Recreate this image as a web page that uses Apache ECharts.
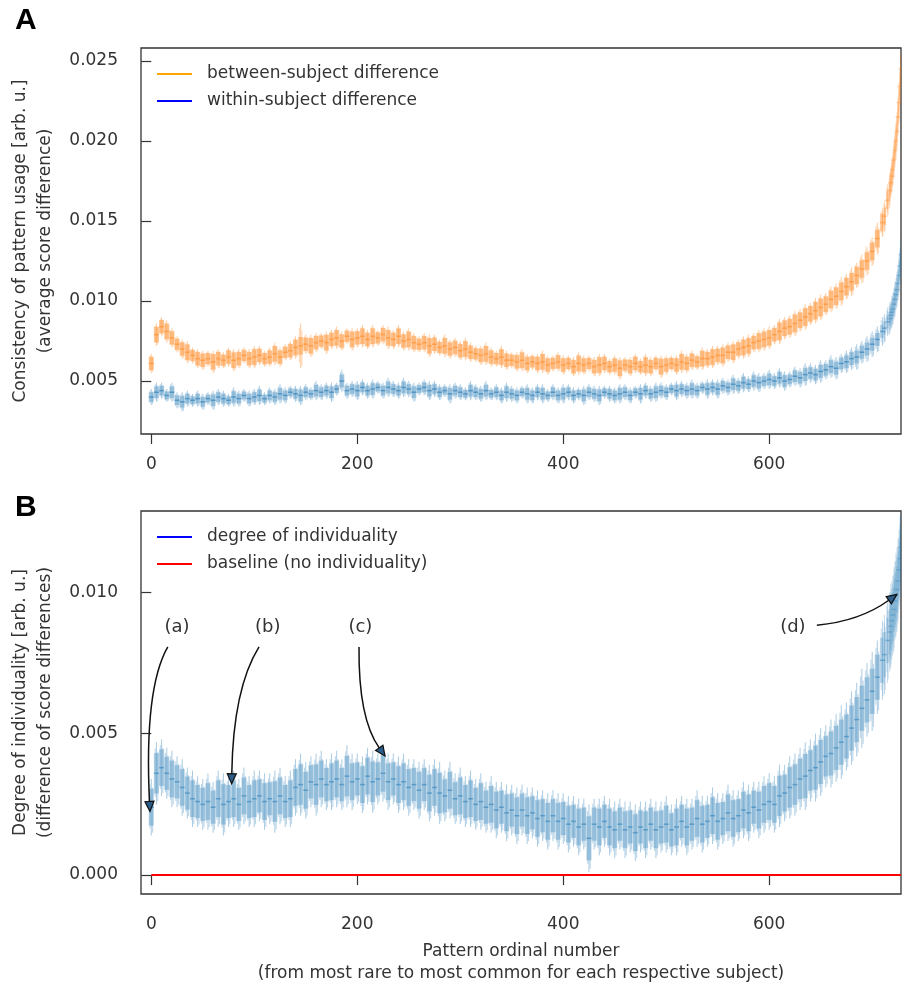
<!DOCTYPE html>
<html><head><meta charset="utf-8">
<script src="https://cdn.jsdelivr.net/npm/echarts@6/dist/echarts.min.js"></script>
<style>html,body{margin:0;padding:0;background:#fff}#c{width:902px;height:986px}</style>
</head><body><div id="c"></div>
<script>
// Pattern ordinal numbers (sampled)
const patternIdx = [
0,5,10,15,20,25,30,35,40,45,
50,55,60,65,70,75,80,85,90,95,
100,105,110,115,120,125,130,135,140,145,
150,155,160,165,170,175,180,185,190,195,
200,205,210,215,220,225,230,235,240,245,
250,255,260,265,270,275,280,285,290,295,
300,305,310,315,320,325,330,335,340,345,
350,355,360,365,370,375,380,385,390,395,
400,405,410,415,420,425,430,435,440,445,
450,455,460,465,470,475,480,485,490,495,
500,505,510,515,520,525,530,535,540,545,
550,555,560,565,570,575,580,585,590,595,
600,605,610,615,620,625,630,635,640,645,
650,655,660,665,670,675,680,685,690,695,
700,705,710,712,715,717,718,719,720,721,722,723,724,725,726,727,728];

// Panel A: between-subject difference (x 1e-3)
const betweenMean = [
6.1,7.9,8.4,8.1,7.7,7.3,7.0,6.8,6.6,6.4,
6.3,6.4,6.2,6.4,6.3,6.5,6.3,6.4,6.6,6.4,
6.5,6.6,6.4,6.5,6.7,6.5,6.8,6.9,7.1,7.2,
7.3,7.2,7.4,7.5,7.4,7.6,7.7,7.5,7.8,7.6,
7.7,7.8,7.6,7.8,7.7,7.9,7.7,7.6,7.8,7.5,
7.6,7.4,7.3,7.4,7.2,7.3,7.1,7.2,7.0,7.1,
6.9,7.0,6.8,6.7,6.6,6.7,6.5,6.4,6.5,6.3,
6.3,6.2,6.3,6.1,6.2,6.1,6.2,6.0,6.1,6.2,
6.0,6.1,5.9,6.1,6.0,6.1,5.9,6.0,6.1,5.9,
6.0,5.8,6.0,5.9,6.1,5.9,6.0,5.9,6.1,5.9,
6.0,6.1,6.0,6.2,6.1,6.3,6.2,6.4,6.4,6.5,
6.6,6.6,6.8,6.8,7.0,7.1,7.2,7.4,7.5,7.6,
7.7,7.9,8.1,8.3,8.4,8.6,8.8,9.0,9.2,9.4,
9.6,9.8,10.1,10.3,10.6,10.9,11.2,11.6,12.0,12.5,
13.1,13.9,14.9,15.3,16.3,16.9,17.4,17.8,18.2,18.8,19.4,20.0,20.6,21.5,22.4,23.4,24.5];
// error half-widths (x 1e-4)
const betweenErr = [
6,7,6,7,6,5,6,7,5,6,
6,5,7,6,5,6,7,6,5,6,
7,6,5,6,7,6,5,6,7,14,
6,7,6,5,7,6,7,6,5,7,
6,7,6,7,5,6,7,6,7,6,
7,6,5,6,7,6,5,7,6,6,
6,7,6,5,6,7,6,5,7,6,
5,6,7,6,5,6,7,6,5,6,
6,5,6,7,6,5,6,7,6,5,
6,7,5,6,6,5,7,6,5,7,
6,5,6,7,6,6,5,7,6,7,
6,7,6,7,6,7,7,6,7,7,
7,6,8,7,7,8,7,8,7,8,
8,7,8,8,9,8,9,8,9,9,
9,10,9,10,10,11,10,11,11,12,11,12,12,12,13,12,12];

// Panel A: within-subject difference (x 1e-3)
const withinMean = [
4.0,4.3,4.4,4.1,4.3,3.8,3.7,3.9,3.8,3.9,
3.7,3.9,3.8,4.0,3.9,3.8,4.0,3.9,4.1,3.9,
4.0,4.1,3.9,4.1,4.0,4.2,4.1,4.3,4.2,4.1,
4.3,4.2,4.4,4.3,4.4,4.3,4.5,5.0,4.4,4.5,
4.4,4.6,4.4,4.5,4.6,4.4,4.6,4.5,4.4,4.6,
4.5,4.3,4.5,4.6,4.4,4.5,4.3,4.4,4.2,4.4,
4.3,4.2,4.4,4.3,4.2,4.4,4.2,4.3,4.1,4.3,
4.2,4.1,4.3,4.2,4.1,4.3,4.2,4.1,4.3,4.1,
4.2,4.3,4.1,4.2,4.1,4.3,4.2,4.1,4.3,4.2,
4.1,4.2,4.3,4.1,4.3,4.2,4.4,4.2,4.3,4.4,
4.3,4.5,4.4,4.5,4.4,4.5,4.4,4.6,4.5,4.6,
4.5,4.7,4.6,4.8,4.7,4.9,4.8,5.0,4.9,5.0,
5.1,5.0,5.2,5.0,5.1,5.3,5.2,5.4,5.5,5.4,
5.6,5.7,5.9,5.8,6.1,6.2,6.4,6.5,6.8,7.0,
7.3,7.6,8.1,8.3,8.7,8.9,9.1,9.3,9.5,9.8,10.1,10.4,10.7,11.1,11.6,12.2,12.9];
const withinErr = [
5,6,5,4,6,5,6,5,4,5,
5,4,6,5,5,4,6,5,4,5,
5,6,4,5,5,6,5,4,5,6,
5,4,6,5,5,6,4,7,5,5,
6,5,5,6,4,5,6,5,5,6,
5,6,4,5,6,5,5,4,6,5,
5,4,6,5,5,6,4,5,5,6,
5,5,4,6,5,5,6,4,5,5,
6,5,5,4,6,5,5,6,4,5,
5,6,5,5,4,6,5,5,6,5,
5,4,6,5,5,6,5,4,6,5,
6,5,5,6,5,6,5,6,6,5,
6,5,6,6,5,6,6,7,6,6,
7,6,7,7,6,7,7,8,7,8,
8,8,9,9,9,10,9,10,10,10,11,10,11,11,12,11,12];

// Panel B: degree of individuality (x 1e-3)
const indivMean = [
2.4,3.6,3.8,3.6,3.4,3.3,3.1,2.9,2.7,2.6,
2.5,2.6,2.4,2.7,2.5,2.6,2.7,2.5,2.8,2.6,
2.7,2.8,2.6,2.7,2.6,2.8,2.6,2.7,3.1,3.2,
3.0,3.3,3.2,3.4,3.2,3.3,3.4,3.2,3.5,3.3,
3.4,3.2,3.5,3.3,3.4,3.6,3.3,3.4,3.2,3.3,
3.1,3.2,3.0,3.2,2.9,3.1,2.9,2.8,3.0,2.7,
2.8,2.6,2.7,2.5,2.6,2.4,2.5,2.3,2.4,2.2,
2.3,2.1,2.3,2.1,2.2,2.0,2.1,1.9,2.1,1.9,
2.0,1.8,1.9,1.7,1.8,1.3,1.8,1.7,1.9,1.7,
1.6,1.8,1.6,1.7,1.5,1.7,1.6,1.8,1.6,1.7,
1.8,1.6,1.7,1.9,1.7,1.8,2.0,1.8,1.9,2.1,
1.9,2.0,2.2,2.0,2.1,2.3,2.2,2.4,2.3,2.5,
2.6,2.5,2.8,2.9,3.1,3.2,3.4,3.5,3.7,3.8,
4.0,4.2,4.3,4.5,4.7,4.9,5.2,5.5,5.9,6.2,
6.5,7.0,7.6,7.8,8.3,8.6,8.8,9.0,9.2,9.4,9.7,9.9,10.1,10.4,10.8,11.2,11.6];
const indivErr = [
10,11,10,9,10,9,10,9,10,9,
9,10,9,10,11,9,10,9,10,9,
10,9,10,9,11,10,9,10,10,11,
10,9,11,10,9,10,10,9,11,10,
9,10,10,11,9,10,10,9,10,10,
10,9,10,9,10,10,11,9,10,9,
10,9,10,9,10,9,10,10,9,10,
9,10,9,10,9,10,9,10,9,10,
9,10,9,10,9,12,9,10,9,10,
10,9,10,9,10,9,10,9,10,9,
10,9,10,9,10,9,10,10,9,10,
10,9,10,10,9,10,10,9,10,10,
10,10,11,10,11,11,11,12,11,12,
12,11,12,12,13,12,13,13,14,13,
14,13,14,14,15,14,15,14,14,15,14,15,15,15,14,15,15];

const baselineValue = 0;
const xTicks = [0, 200, 400, 600];
const yTicksA = [0.005, 0.010, 0.015, 0.020, 0.025];
const yTicksB = [0.000, 0.005, 0.010];

const SCALE = 1e-3, ERR_SCALE = 1e-4;
const FONT = 'DejaVu Sans';
const TXT = '#333';

function toData(mean, err) {
  return patternIdx.map((x, i) => [x, mean[i] * SCALE, err[i] * ERR_SCALE]);
}

function errSeries(name, gi, data, rgb, a) {
  const col = alpha => 'rgba(' + rgb + ',' + alpha.toFixed(3) + ')';
  return {
    type: 'custom', name: name, xAxisIndex: gi, yAxisIndex: gi, data: data,
    silent: true, clip: true, z: 2,
    renderItem: function (params, api) {
      const i = params.dataIndex;
      const x = api.value(0), m = api.value(1), e = api.value(2);
      const gL = i > 0 ? patternIdx[i] - patternIdx[i - 1] : 5;
      const gR = i < patternIdx.length - 1 ? patternIdx[i + 1] - patternIdx[i] : gL;
      const dens = Math.min(1, 0.45 + (gL + gR) / 18);
      const inner = Math.min(e * a.inner, a.cap);
      const mid = api.coord([x, m]);
      const xl = api.coord([x - gL / 2, m])[0], xr = api.coord([x + gR / 2, m])[0];
      const top = api.coord([x, m + e])[1], bot = api.coord([x, m - e])[1];
      const inTop = api.coord([x, m + inner])[1], inBot = api.coord([x, m - inner])[1];
      const t2 = api.coord([x, m + e * 0.8])[1], b2 = api.coord([x, m - e * 0.75])[1];
      const t3 = api.coord([x, m + e * 0.7])[1], b3 = api.coord([x, m - e * 0.9])[1];
      const qx1 = (xl + mid[0]) / 2, qx2 = (xr + mid[0]) / 2;
      return {
        type: 'group', children: [
          { type: 'rect', shape: { x: xl, y: inTop, width: xr - xl, height: inBot - inTop },
            style: { fill: col(a.band * dens) } },
          { type: 'line', shape: { x1: mid[0], y1: top, x2: mid[0], y2: bot },
            style: { stroke: col(a.line * dens), lineWidth: 1 } },
          { type: 'line', shape: { x1: qx1, y1: t2, x2: qx1, y2: b2 },
            style: { stroke: col(a.line * 0.8 * dens), lineWidth: 1 } },
          { type: 'line', shape: { x1: qx2, y1: t3, x2: qx2, y2: b3 },
            style: { stroke: col(a.line * 0.8 * dens), lineWidth: 1 } },
          { type: 'line', shape: { x1: mid[0] - 2.5, y1: mid[1], x2: mid[0] + 2.5, y2: mid[1] },
            style: { stroke: col(a.mark * dens), lineWidth: 1.5 } }
        ]
      };
    }
  };
}

function xAxisCfg(gi, name) {
  return {
    type: 'value', gridIndex: gi, min: -10, max: 728,
    axisLine: { show: false }, splitLine: { show: false },
    axisTick: { show: true, inside: false, length: 10, lineStyle: { color: TXT, width: 1.2 }, customValues: xTicks },
    axisLabel: { show: true, margin: 22, fontFamily: FONT, fontSize: 17, color: TXT,
      customValues: xTicks, formatter: v => String(Math.round(v)) },
    name: name || '', nameLocation: 'middle', nameGap: 47,
    nameTextStyle: { fontFamily: FONT, fontSize: 17, color: TXT, lineHeight: 22 }
  };
}
function yAxisCfg(gi, min, max, ticks, name) {
  return {
    type: 'value', gridIndex: gi, min: min, max: max, position: 'left',
    axisLine: { show: false }, splitLine: { show: false },
    axisTick: { show: true, inside: false, length: 10, lineStyle: { color: TXT, width: 1.2 }, customValues: ticks },
    axisLabel: { show: true, margin: 23, fontFamily: FONT, fontSize: 17, color: TXT,
      customValues: ticks, formatter: v => v.toFixed(3) },
    name: name, nameLocation: 'middle', nameGap: 75, nameRotate: 90,
    nameTextStyle: { fontFamily: FONT, fontSize: 17, color: TXT, lineHeight: 25 }
  };
}

const chart = echarts.init(document.getElementById('c'), null, { renderer: 'canvas' });
const blueRGB = '31,119,180', orangeRGB = '255,127,14';

chart.setOption({
  animation: false,
  backgroundColor: '#fff',
  grid: [
    { left: 141, top: 48, width: 760, height: 386, show: true, borderColor: '#333', borderWidth: 1.3, backgroundColor: 'transparent' },
    { left: 141, top: 511, width: 760, height: 386, show: true, borderColor: '#333', borderWidth: 1.3, backgroundColor: 'transparent' }
  ],
  xAxis: [xAxisCfg(0), xAxisCfg(1, 'Pattern ordinal number\n(from most rare to most common for each respective subject)')],
  yAxis: [
    yAxisCfg(0, 0.00169, 0.02581, yTicksA, 'Consistency of pattern usage [arb. u.]\n(average score difference)'),
    yAxisCfg(1, -0.00067, 0.01288, yTicksB, 'Degree of individuality [arb. u.]\n(difference of score differences)')
  ],
  legend: [
    { data: ['between-subject difference', 'within-subject difference'], orient: 'vertical', left: 157, top: 64,
      padding: 0, itemGap: 7, itemWidth: 35, itemHeight: 2, icon: 'rect', selectedMode: false,
      textStyle: { fontFamily: FONT, fontSize: 17, color: TXT, lineHeight: 20, padding: [0, 0, 0, 10] } },
    { data: ['degree of individuality', 'baseline (no individuality)'], orient: 'vertical', left: 157, top: 527,
      padding: 0, itemGap: 7, itemWidth: 35, itemHeight: 2, icon: 'rect', selectedMode: false,
      textStyle: { fontFamily: FONT, fontSize: 17, color: TXT, lineHeight: 20, padding: [0, 0, 0, 10] } }
  ],
  series: [
    errSeries('_between', 0, toData(betweenMean, betweenErr), orangeRGB, { band: 0.38, line: 0.4, mark: 0.45, inner: 0.7, cap: 0.00055 }),
    errSeries('_within', 0, toData(withinMean, withinErr), blueRGB, { band: 0.3, line: 0.38, mark: 0.55, inner: 0.6, cap: 0.0004 }),
    errSeries('_indiv', 1, toData(indivMean, indivErr), blueRGB, { band: 0.3, line: 0.38, mark: 0.5, inner: 0.65, cap: 0.0008 }),
    { type: 'line', name: 'between-subject difference', xAxisIndex: 0, yAxisIndex: 0, data: [], color: '#ffa500' },
    { type: 'line', name: 'within-subject difference', xAxisIndex: 0, yAxisIndex: 0, data: [], color: '#0000ff' },
    { type: 'line', name: 'degree of individuality', xAxisIndex: 1, yAxisIndex: 1, data: [], color: '#0000ff' },
    { type: 'line', name: 'baseline (no individuality)', xAxisIndex: 1, yAxisIndex: 1, color: '#ff0000',
      symbol: 'none', lineStyle: { width: 2, color: '#ff0000' }, z: 3,
      data: [[patternIdx[0], baselineValue], [patternIdx[patternIdx.length - 1], baselineValue]] }
  ]
});

// Annotations in panel B (data coordinates)
const annotations = [
  { label: '(a)', text: [25, 0.00877], start: [16, 0.00807], ctrl: [-7, 0.0066], tip: [-1.3, 0.00225] },
  { label: '(b)', text: [113, 0.00877], start: [104.6, 0.00807], ctrl: [79.5, 0.0066], tip: [78, 0.00323] },
  { label: '(c)', text: [203, 0.00877], start: [201.7, 0.00807], ctrl: [201, 0.00554], tip: [227, 0.00421] },
  { label: '(d)', text: [623, 0.00877], start: [646.3, 0.00884], ctrl: [688, 0.00898], tip: [724, 0.00993] }
];

function px(p) { return chart.convertToPixel({ gridIndex: 1 }, p); }
const graphics = [
  { type: 'text', left: 15, top: 6, style: { text: 'A', font: 'bold 30px "Liberation Sans", Arial, sans-serif', fill: '#000' } },
  { type: 'text', left: 15, top: 493, style: { text: 'B', font: 'bold 30px "Liberation Sans", Arial, sans-serif', fill: '#000' } }
];
annotations.forEach(a => {
  const t = px(a.text), s = px(a.start), c = px(a.ctrl), e = px(a.tip);
  graphics.push({ type: 'text', x: t[0], y: t[1], z: 10,
    style: { text: a.label, fontFamily: FONT, fontSize: 18, fill: TXT, align: 'center', verticalAlign: 'middle' } });
  const dx = e[0] - c[0], dy = e[1] - c[1], L = Math.hypot(dx, dy);
  const ux = dx / L, uy = dy / L, hl = 10, hw = 4.5;
  const bx = e[0] - ux * hl, by = e[1] - uy * hl;
  graphics.push({ type: 'bezierCurve', z: 10,
    shape: { x1: s[0], y1: s[1], x2: bx, y2: by, cpx1: c[0], cpy1: c[1] },
    style: { stroke: '#111', lineWidth: 1.5, fill: null } });
  graphics.push({ type: 'polygon', z: 11,
    shape: { points: [[e[0], e[1]], [bx - uy * hw, by + ux * hw], [bx + uy * hw, by - ux * hw]] },
    style: { fill: '#2c5c88', stroke: '#111', lineWidth: 1.2 } });
});
chart.setOption({ graphic: graphics });
</script>
</body></html>
